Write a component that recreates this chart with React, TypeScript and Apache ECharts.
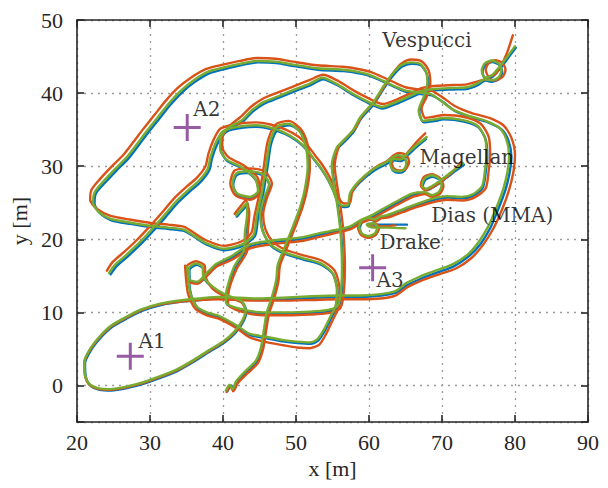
import React, { useEffect, useRef } from "react";
import * as echarts from "echarts";

// ---- Data (metres) : flat lists x0,y0,x1,y1,...  ----
// Trajectory 1 (ends at Magellan)
const t1Blue = [24.6,15.2, 25.4,16.3, 27,17.7, 28.8,19.4, 30.5,21.2, 32.1,23, 33.8,25, 35.4,26.5, 36.9,27.8, 38.1,29.4, 38.5,31.1, 39.2,33, 40.1,34.5, 41.2,35, 42.8,35.3, 44.7,35.4, 46.5,35.1, 48.5,34.4, 50.2,33.4, 51.5,32.2, 52.4,31, 53.4,29.7, 54.3,28.3, 55.1,26.7, 55.7,25.2, 56.5,24.4, 57.2,24.5, 57.5,26.1, 58.3,27.3, 59.3,28.3, 60.3,29.1, 61.2,29.7, 62.4,30.3, 63.3,31, 64.1,31.3, 64.9,31, 65.2,30.2, 64.9,29.4, 64.1,29.1, 63.3,29.4, 63,30.2, 63.5,30.8, 64.4,30.7, 65.3,31.5, 66.5,32.6, 67.8,33.7];
const t1Orange = [24.1,15.7, 24.9,16.9, 26.5,18.3, 28.3,20, 30,21.8, 31.6,23.6, 33.3,25.6, 34.9,27.1, 36.4,28.4, 37.6,30, 38,31.7, 38.7,33.6, 39.6,35.1, 41,35.6, 42.7,35.9, 44.6,36, 46.5,35.7, 48.6,35, 50.4,34, 51.7,32.7, 52.6,31.5, 53.6,30.2, 54.5,28.7, 55.3,27.1, 55.9,25.6, 56.6,24.9, 57.4,25, 57.7,26.5, 58.5,27.7, 59.5,28.7, 60.4,29.5, 61.3,30.1, 62.5,30.7, 63.4,31.5, 64.2,31.8, 65.1,31.5, 65.5,30.6, 65.1,29.7, 64.3,29.4, 63.4,29.7, 63.1,30.6, 63.6,31.2, 64.5,31.1, 65.4,32, 66.6,33.4, 67.7,34.5];
const t1Green = [24.4,15.4, 25.2,16.5, 26.8,17.9, 28.6,19.6, 30.3,21.4, 31.9,23.2, 33.6,25.2, 35.2,26.7, 36.7,28, 37.9,29.6, 38.3,31.3, 39,33.2, 39.9,34.7, 41.1,35.2, 42.7,35.5, 44.6,35.6, 46.4,35.3, 48.4,34.6, 50.1,33.6, 51.4,32.4, 52.3,31.2, 53.3,29.9, 54.2,28.5, 55,26.9, 55.6,25.4, 56.4,24.6, 57.1,24.7, 57.4,26.3, 58.2,27.5, 59.2,28.5, 60.2,29.3, 61.1,29.9, 62.3,30.5, 63.2,31.2, 64,31.5, 64.8,31.2, 65.1,30.4, 64.8,29.6, 64,29.3, 63.2,29.6, 62.9,30.4, 63.4,31, 64.3,30.9, 65.2,31.7, 66.4,32.8, 67.9,34];

// Trajectory 2 (outer loop, A1 loop, ends at Dias)
const t2Blue = [40.6,-0.8, 41.1,0, 41.5,-0.6, 42,0.5, 43.2,1.8, 44.7,3.3, 45.4,5.1, 45.8,7.5, 46.2,9.9, 46.9,12, 47.5,14.4, 47.7,16.4, 48.6,18.7, 49.8,21.7, 50.8,24.4, 51.4,26.7, 51.8,29.8, 51.6,32.2, 50.8,34.5, 49.1,35.6, 47.6,35.2, 46.6,33.1, 46.1,29.9, 45.5,26.2, 44.8,23, 44.4,20.5, 42.7,19.1, 40.2,18.5, 37.7,19.3, 36.1,20.3, 34.8,21.1, 32.6,21.4, 30.4,21.6, 27.3,22.1, 24.7,22.6, 23.2,23.5, 22.4,24.9, 22.6,26.3, 23.8,27.7, 25.4,29.4, 27,31, 28.4,32.8, 29.6,34.4, 31.2,36.4, 32.8,38.4, 34.4,40.1, 36.1,41.5, 38.1,42.7, 40.2,43.3, 42.4,43.8, 44.8,44.2, 47.3,44.1, 49.7,43.7, 53,43.2, 56.5,43, 58.6,42.7, 60.3,42.3, 62.3,41.4, 63.8,40.7, 65,40.2, 66.8,39.9, 68.6,39.7, 70.1,38.8, 71.7,37.6, 73.9,36.7, 76.3,36, 78.2,35, 79.1,33.5, 79.5,31.4, 79.3,29.3, 78.7,26.8, 77.7,24.1, 76.6,21.5, 75.3,19.4, 73.7,17.7, 71.6,16.3, 69.5,15.5, 67.1,14.6, 65.2,13.7, 63.7,12.7, 61.7,12.3, 58.9,12.1, 56.1,12.1, 52.3,12, 48.3,11.8, 44.7,11.7, 42.3,11.8, 39.4,11.9, 36.9,11.7, 34.7,11.5, 31.5,11, 28.9,10.2, 26.9,9.2, 24.8,8, 23.3,6.6, 21.9,4.8, 21.1,3, 21.2,1.2, 21.8,0, 23.1,-0.6, 24.7,-0.7, 27.1,-0.3, 29.3,0.3, 31.6,1.1, 33.8,2, 36.1,3.3, 38.3,4.7, 40.1,5.8, 41.6,7.1, 42.7,8.6, 43.2,10.1, 42.7,11.3, 41.6,11.8, 40.1,12.4, 38.6,13.4, 37.4,14.7, 37.3,16, 36.4,16.5, 35.4,15.8, 35.5,14.3, 36.6,14, 37.7,15, 39.1,16.4, 41.1,17.4, 43.8,19.1, 47.5,19.7, 51.1,20.1, 53.6,20.7, 55.7,21.1, 57.6,21.6, 58.9,22.4, 60.5,23.1, 62.1,24, 64.3,25.2, 65.9,26, 66.7,26.2, 67.75,26.25, 68.7,25.85, 69.65,26.25, 70.05,27.2, 69.65,28.15, 68.7,28.55, 67.75,28.15, 67.35,27.2, 67.9,26.7, 69.1,27.3, 70.6,28.4, 71.9,29.4, 73,30.2];
const t2Orange = [40.5,-0.9, 41,-0.1, 41.4,-0.8, 42,0.3, 43.3,1.6, 44.8,3.1, 45.5,5, 45.9,7.4, 46.3,9.8, 47,11.9, 47.6,14.3, 47.8,16.4, 48.7,18.7, 49.9,21.7, 50.9,24.4, 51.5,26.7, 51.9,29.9, 51.7,32.5, 50.8,34.9, 49,36.2, 47.2,35.7, 46.1,33.3, 45.6,30, 45,26.3, 44.3,23.1, 43.9,20.9, 42.5,19.7, 40.1,19.1, 37.6,19.9, 36,20.9, 34.7,21.7, 32.5,22, 30.3,22.2, 27.2,22.7, 24.6,23.2, 22.8,24.1, 21.8,25.4, 22,26.8, 23.2,28.3, 24.8,30, 26.4,31.6, 27.8,33.4, 29,35, 30.6,37, 32.2,39, 33.8,40.7, 35.6,42.1, 37.7,43.3, 40,43.9, 42.3,44.4, 44.7,44.8, 47.2,44.7, 49.6,44.3, 52.9,43.8, 56.4,43.6, 58.5,43.3, 60.2,42.9, 62.3,42, 63.8,41.3, 65,40.8, 66.7,40.5, 68.6,40.3, 70.1,39.4, 71.8,38.2, 74,37.3, 76.5,36.6, 78.4,35.6, 79.5,33.9, 80,31.5, 79.8,29.3, 79.2,26.8, 78.2,24, 77,21.4, 75.6,19.2, 74,17.4, 71.9,16, 69.6,15.2, 67.1,14.3, 65.2,13.4, 63.6,12.3, 61.6,11.9, 58.8,11.8, 56,11.8, 52.2,11.7, 48.2,11.6, 44.6,11.6, 42.2,11.7, 39.3,11.8, 36.8,11.7, 34.6,11.5, 31.4,11.1, 28.8,10.3, 26.8,9.3, 24.7,8.1, 23.2,6.7, 21.8,4.9, 21,3.1, 21.1,1.3, 21.7,0.1, 23,-0.5, 24.6,-0.6, 27,-0.2, 29.2,0.4, 31.5,1.2, 33.7,2.1, 36,3.4, 38.2,4.8, 40,5.9, 41.5,7.2, 42.6,8.7, 43.1,10.2, 42.6,11.3, 41.5,11.8, 40,12.3, 38.5,13.3, 37.6,14.9, 37.5,16.4, 36.3,17, 35,16.2, 35.1,14.3, 36.5,13.9, 37.8,15, 39.2,16.3, 41.2,17.2, 43.8,18.8, 47.4,19.4, 51,19.8, 53.5,20.4, 55.6,20.9, 57.5,21.4, 58.9,22.2, 60.6,22.9, 62.2,23.8, 64.4,25, 66,25.8, 66.8,26, 67.65,26.2, 68.6,25.8, 69.7,26.2, 70.2,27.3, 69.7,28.4, 68.6,28.9, 67.5,28.5, 67.1,27.4, 67.7,26.7, 69,27.3, 70.5,28.4, 71.7,29.5, 72.6,30.5];
const t2Green = [40.4,-0.7, 40.9,0.1, 41.3,-0.5, 41.8,0.6, 43,1.9, 44.5,3.4, 45.2,5.2, 45.6,7.6, 46,10, 46.7,12.1, 47.3,14.5, 47.5,16.5, 48.4,18.8, 49.6,21.8, 50.6,24.5, 51.2,26.8, 51.6,29.9, 51.4,32.3, 50.6,34.6, 49,35.8, 47.4,35.4, 46.4,33.2, 45.9,30, 45.3,26.3, 44.6,23.1, 44.2,20.6, 42.6,19.3, 40.1,18.7, 37.6,19.5, 36,20.5, 34.7,21.3, 32.5,21.6, 30.3,21.8, 27.2,22.3, 24.6,22.8, 23,23.7, 22.2,25, 22.4,26.4, 23.6,27.9, 25.2,29.6, 26.8,31.2, 28.2,33, 29.4,34.6, 31,36.6, 32.6,38.6, 34.2,40.3, 35.9,41.7, 37.9,42.9, 40.1,43.5, 42.3,44, 44.7,44.4, 47.2,44.3, 49.6,43.9, 52.9,43.4, 56.4,43.2, 58.5,42.9, 60.1,42.5, 62.1,41.6, 63.6,40.9, 64.8,40.4, 66.6,40.1, 68.4,39.9, 69.8,39, 71.4,37.8, 73.6,36.9, 76,36.2, 77.9,35.2, 78.8,33.7, 79.2,31.5, 79,29.4, 78.4,26.9, 77.4,24.2, 76.3,21.7, 75,19.6, 73.5,17.9, 71.5,16.6, 69.4,15.8, 67,14.9, 65.1,14, 63.6,12.9, 61.6,12.5, 58.8,12.3, 56,12.3, 52.2,12.2, 48.2,12, 44.6,11.9, 42.2,12, 39.3,12.1, 36.8,11.9, 34.6,11.7, 31.4,11.2, 28.8,10.4, 26.8,9.4, 24.7,8.2, 23.2,6.8, 21.8,5, 21,3.2, 21.1,1.4, 21.7,0.2, 23,-0.4, 24.6,-0.5, 27,-0.1, 29.2,0.5, 31.5,1.3, 33.7,2.2, 36,3.5, 38.2,4.9, 40,6, 41.5,7.3, 42.6,8.8, 43.1,10.3, 42.6,11.5, 41.5,12, 40,12.6, 38.5,13.6, 37.3,14.9, 37.2,16.2, 36.3,16.7, 35.3,16, 35.4,14.5, 36.5,14.2, 37.6,15.2, 39,16.6, 41,17.6, 43.7,19.3, 47.4,19.9, 51,20.3, 53.5,20.9, 55.6,21.3, 57.5,21.8, 58.8,22.6, 60.4,23.3, 62,24.2, 64.2,25.4, 65.8,26.2, 66.6,26.4, 67.65,26.45, 68.6,26.05, 69.55,26.45, 69.95,27.4, 69.55,28.35, 68.6,28.75, 67.65,28.35, 67.25,27.4, 67.8,26.9, 69,27.5, 70.5,28.6, 71.8,29.6, 72.9,30.4];

// Trajectory 3 (ends at Drake)
const t3Blue = [41.9,23.1, 42.7,24, 43.4,24.8, 43.4,23.3, 43.1,20.7, 43,18.4, 41.6,16, 40.6,12.9, 40.5,11.2, 42.4,10.3, 45.7,9.8, 48.9,9.8, 52,9.9, 54.3,10.1, 55.7,10.6, 56.2,12.2, 56.4,16, 56.2,20.7, 55.8,24.1, 55.3,27.3, 55,29.8, 55.7,32.4, 56.5,33.2, 57.9,34.7, 58.9,36.5, 60.6,38.4, 62,40.6, 63.3,42.4, 64.5,43.6, 65.8,44, 67.1,43.8, 67.9,42.7, 68.1,41.2, 67.6,39.3, 66.9,37.4, 67.5,36, 69.1,36.2, 70.2,36.4, 73,36.1, 75,35.3, 76,33.6, 76.2,31.3, 76,29.3, 75.6,27.1, 74.4,26, 72.8,25.6, 70.8,25.7, 68.6,25.3, 66.6,24.6, 64.7,23.9, 62.6,23.1, 61.6,22.9, 60.9,22.5, 60,22.75, 59.1,22.4, 58.75,21.5, 59.1,20.6, 60,20.25, 60.9,20.6, 61.25,21.5, 60.7,22.1, 59.8,22.1, 60.6,22, 62.5,22, 65.2,22];
const t3Orange = [41.6,23.5, 42.4,24.5, 43.1,25.3, 43.6,23.6, 43.4,20.9, 43.3,18.4, 41.9,16, 40.8,13, 40.7,11.1, 42.5,10.1, 45.6,9.6, 48.8,9.6, 51.9,9.7, 54.4,9.9, 56,10.5, 56.5,12.3, 56.7,16.2, 56.5,21, 56.1,24.4, 55.6,27.6, 55.3,30, 55.9,32.8, 56.7,33.7, 58.1,35.2, 59.1,37, 60.8,38.9, 62.2,41.1, 63.4,42.9, 64.5,44.1, 65.8,44.6, 67.3,44.3, 68.2,43, 68.4,41.3, 67.9,39.5, 67.2,37.9, 67.7,36.6, 69,36.8, 70.2,37, 73.2,36.7, 75.3,35.8, 76.4,34, 76.6,31.5, 76.4,29.4, 76,27, 74.6,25.8, 72.8,25.3, 70.7,25.4, 68.5,25, 66.5,24.4, 64.6,23.7, 62.7,23, 61.7,22.9, 61,22.5, 59.9,22.8, 58.9,22.5, 58.5,21.6, 58.9,20.6, 59.9,20.2, 60.9,20.6, 61.4,21.6, 60.8,22.2, 59.8,21.9, 60.6,21.7, 62.5,21.8, 63.6,21.9];
const t3Green = [41.8,23.3, 42.6,24.2, 43.3,25, 43.3,23.5, 43,20.9, 42.9,18.6, 41.5,16.2, 40.5,13.1, 40.4,11.4, 42.3,10.5, 45.6,10, 48.8,10, 51.9,10.1, 54.2,10.3, 55.6,10.8, 56.1,12.4, 56.3,16.2, 56.1,20.9, 55.7,24.3, 55.2,27.5, 54.9,30, 55.6,32.6, 56.4,33.4, 57.8,34.9, 58.8,36.7, 60.5,38.6, 61.9,40.8, 63.2,42.6, 64.4,43.8, 65.7,44.2, 67,44, 67.8,42.9, 68,41.4, 67.5,39.5, 66.8,37.6, 67.4,36.2, 69,36.4, 70.1,36.6, 72.9,36.3, 74.9,35.5, 75.9,33.8, 76.1,31.5, 75.9,29.5, 75.5,27.3, 74.3,26.2, 72.7,25.8, 70.7,25.9, 68.5,25.5, 66.5,24.8, 64.6,24.1, 62.5,23.3, 61.5,23.1, 60.8,22.7, 59.9,22.95, 59,22.6, 58.65,21.7, 59,20.8, 59.9,20.45, 60.8,20.8, 61.15,21.7, 60.6,22.2, 59.7,22, 60.5,21.6, 62.5,21.6, 65,21.5];

// Trajectory 4 (ends at Vespucci)
const t4Blue = [35.2,16, 35.6,12.5, 36.5,10.6, 37.9,9.8, 39.6,9.3, 42,8, 43.7,6.9, 45.7,6.5, 48.4,6, 50.2,5.8, 52,5.7, 53,6.1, 53.9,7.4, 54.8,9.2, 55.5,10.6, 55.7,12.8, 55.1,15.2, 53.5,16.5, 51.1,17.2, 48.5,18, 46.6,19.1, 45.5,21, 45.2,23.2, 45.7,25.4, 46.4,27.3, 45.6,28.7, 43.8,29.1, 41.9,28.8, 41.4,27.4, 42,26.1, 43.8,25.6, 44.9,26.4, 44.5,28.1, 42.6,29.7, 40.6,30.7, 39.7,32.2, 39.8,33.8, 40.9,35.1, 42.7,36.1, 44.1,37.5, 45.7,38.6, 47.5,39.3, 49.7,40.2, 52,41.1, 53.7,41.9, 55.6,41.1, 57.9,39.7, 59.8,38.7, 61.9,37.9, 63.4,38.4, 65.3,39.2, 67.4,40.1, 69.4,40.4, 71.6,40.5, 73.5,40.6, 74.9,41.1, 76,41.7, 76.9,41.55, 77.85,41.95, 78.25,42.9, 77.85,43.85, 76.9,44.25, 75.95,43.85, 75.55,42.9, 75.95,41.95, 76.9,42.2, 77.9,43.3, 78.9,44.6, 80.1,46.2];
const t4Orange = [34.8,16.4, 35.2,12.6, 36.2,10.5, 37.8,9.6, 39.5,9.1, 41.9,7.8, 43.6,6.6, 45.6,6, 48.3,5.5, 50.1,5.2, 51.9,5.1, 53.2,5.6, 54.2,7.2, 55.1,9.1, 55.8,10.6, 56,13, 55.3,15.7, 53.5,17.1, 51,17.8, 48.5,18.6, 46.8,19.7, 45.8,21.4, 45.5,23.4, 46,25.6, 46.7,27.6, 45.7,29.3, 43.7,29.7, 41.6,29.4, 41,27.6, 41.7,26, 43.7,25.4, 45.1,26.4, 44.7,28.5, 42.7,30.2, 40.8,31.2, 39.9,32.6, 40,34.2, 41,35.6, 42.5,36.8, 43.8,38.1, 45.4,39.2, 47.3,40, 49.6,40.9, 51.9,41.8, 53.7,42.5, 55.7,41.7, 58,40.3, 59.9,39.3, 61.9,38.5, 63.5,39, 65.3,39.8, 67.3,40.7, 69.3,41, 71.5,41.1, 73.4,41.2, 74.9,41.6, 76.2,41.9, 77.2,41.75, 78.3,42.2, 78.7,43.2, 78.3,44.1, 77.3,44.5, 76.4,44.1, 76,43.2, 76.4,42.3, 77.3,42.6, 78.1,43.8, 78.9,45.5, 79.7,47.9];
const t4Green = [35.1,16.2, 35.5,12.7, 36.4,10.8, 37.8,10, 39.5,9.5, 41.9,8.2, 43.6,7.1, 45.6,6.7, 48.3,6.2, 50.1,6, 51.9,5.9, 52.9,6.3, 53.8,7.6, 54.7,9.4, 55.4,10.8, 55.6,13, 55,15.4, 53.4,16.7, 51,17.4, 48.4,18.2, 46.5,19.3, 45.4,21.2, 45.1,23.4, 45.6,25.6, 46.3,27.5, 45.5,28.9, 43.7,29.3, 41.8,29, 41.3,27.6, 41.9,26.3, 43.7,25.8, 44.8,26.6, 44.4,28.3, 42.5,29.9, 40.5,30.9, 39.6,32.4, 39.7,34, 40.8,35.3, 42.6,36.3, 44,37.7, 45.6,38.8, 47.4,39.5, 49.6,40.4, 51.9,41.3, 53.6,42.1, 55.5,41.3, 57.8,39.9, 59.7,38.9, 61.8,38.1, 63.3,38.6, 65.2,39.4, 67.3,40.3, 69.3,40.6, 71.5,40.7, 73.4,40.8, 74.8,41.3, 75.9,41.9, 76.8,41.75, 77.75,42.15, 78.15,43.1, 77.75,44.05, 76.8,44.45, 75.85,44.05, 75.45,43.1, 75.85,42.15, 76.8,42.4, 77.8,43.5, 78.8,44.8, 80,46.4];

// Anchors
const anchorNames = ["A1", "A2", "A3"];
const anchorX = [27.3, 35.1, 60.5];
const anchorY = [4.0, 35.3, 16.1];
const anchorLabelX = [28.5, 36.0, 61.1];
const anchorLabelY = [6.0, 37.8, 14.3];

// Robot names
const robotNames = ["Vespucci", "Magellan", "Dias (MMA)", "Drake"];
const robotLabelX = [61.9, 67.0, 68.6, 61.5];
const robotLabelY = [47.2, 31.2, 23.2, 19.5];

const BLUE = "#0072BD";
const ORANGE = "#D95319";
const GREEN = "#77AC30";
const PURPLE = "#7E2F8E";
const AXIS = "#262626";

const pairs = (a: number[]) => {
  const out: number[][] = [];
  for (let i = 0; i + 1 < a.length; i += 2) out.push([a[i], a[i + 1]]);
  return out;
};

const lineSeries = (flat: number[], color: string) => ({
  type: "line",
  data: pairs(flat),
  showSymbol: false,
  symbol: "none",
  smooth: 0.25,
  silent: true,
  lineStyle: { color, width: 2.4, cap: "round", join: "round" },
  itemStyle: { color },
  z: 3,
});

const PLUS =
  "path://M8.9,0 H11.1 V8.9 H20 V11.1 H11.1 V20 H8.9 V11.1 H0 V8.9 H8.9 Z";

export default function App() {
  const ref = useRef<HTMLDivElement>(null);
  useEffect(() => {
    if (!ref.current) return;
    const chart = echarts.init(ref.current, undefined, { renderer: "svg" });
    const tickFont = { fontFamily: "Liberation Serif", fontSize: 22, color: AXIS };
    const baseX = {
      type: "value",
      min: 20,
      max: 90,
      interval: 10,
      axisLine: { show: true, onZero: false, lineStyle: { color: AXIS, width: 1.6 } },
      axisTick: { show: true, inside: true, length: 7, lineStyle: { color: AXIS, width: 1.6 } },
    };
    const baseY = {
      type: "value",
      min: -5,
      max: 50,
      splitNumber: 6,
      axisLine: { show: true, onZero: false, lineStyle: { color: AXIS, width: 1.6 } },
      axisTick: { show: true, inside: true, length: 7, lineStyle: { color: AXIS, width: 1.6 } },
    };
    const labelData = [
      ...anchorNames.map((n, i) => ({ value: [anchorLabelX[i], anchorLabelY[i]], name: n })),
      ...robotNames.map((n, i) => ({ value: [robotLabelX[i], robotLabelY[i]], name: n })),
    ];
    chart.setOption({
      animation: false,
      backgroundColor: "#ffffff",
      grid: { left: 77, right: 20, top: 20, bottom: 66 },
      xAxis: [
        {
          ...baseX,
          position: "bottom",
          axisLabel: { ...tickFont, margin: 9 },
          splitLine: { show: true, lineStyle: { color: "#9a9a9a", type: [2, 5], width: 1.3 } },
          name: "x [m]",
          nameLocation: "middle",
          nameGap: 33,
          nameTextStyle: { ...tickFont, verticalAlign: "top" },
        },
        {
          ...baseX,
          position: "top",
          axisLabel: { show: false },
          splitLine: { show: false },
        },
      ],
      yAxis: [
        {
          ...baseY,
          position: "left",
          axisLabel: {
            ...tickFont,
            margin: 14,
            formatter: (v: number) => (v < 0 ? "" : String(v)),
          },
          splitLine: { show: true, lineStyle: { color: "#9a9a9a", type: [2, 5], width: 1.3 } },
          name: "y [m]",
          nameLocation: "middle",
          nameGap: 42,
          nameRotate: 90,
          nameTextStyle: { ...tickFont },
        },
        {
          ...baseY,
          position: "right",
          axisLabel: { show: false },
          splitLine: { show: false },
        },
      ],
      series: [
        lineSeries(t1Blue, BLUE),
        lineSeries(t2Blue, BLUE),
        lineSeries(t3Blue, BLUE),
        lineSeries(t4Blue, BLUE),
        lineSeries(t1Orange, ORANGE),
        lineSeries(t2Orange, ORANGE),
        lineSeries(t3Orange, ORANGE),
        lineSeries(t4Orange, ORANGE),
        lineSeries(t1Green, GREEN),
        lineSeries(t2Green, GREEN),
        lineSeries(t3Green, GREEN),
        lineSeries(t4Green, GREEN),
        {
          type: "scatter",
          data: anchorX.map((x, i) => [x, anchorY[i]]),
          symbol: PLUS,
          symbolSize: 27,
          itemStyle: { color: PURPLE },
          silent: true,
          z: 5,
        },
        {
          type: "scatter",
          data: labelData,
          symbolSize: 1,
          itemStyle: { color: "rgba(0,0,0,0)" },
          silent: true,
          z: 6,
          label: {
            show: true,
            position: [0, 0],
            align: "left",
            verticalAlign: "middle",
            formatter: (p: any) => p.name,
            fontFamily: "DejaVu Serif",
            fontSize: 20,
            color: "#000000",
          },
        },
      ],
    });
    return () => chart.dispose();
  }, []);
  return (
    <div
      ref={ref}
      style={{ position: "fixed", left: 0, top: 0, width: 608, height: 488, background: "#fff" }}
    />
  );
}
